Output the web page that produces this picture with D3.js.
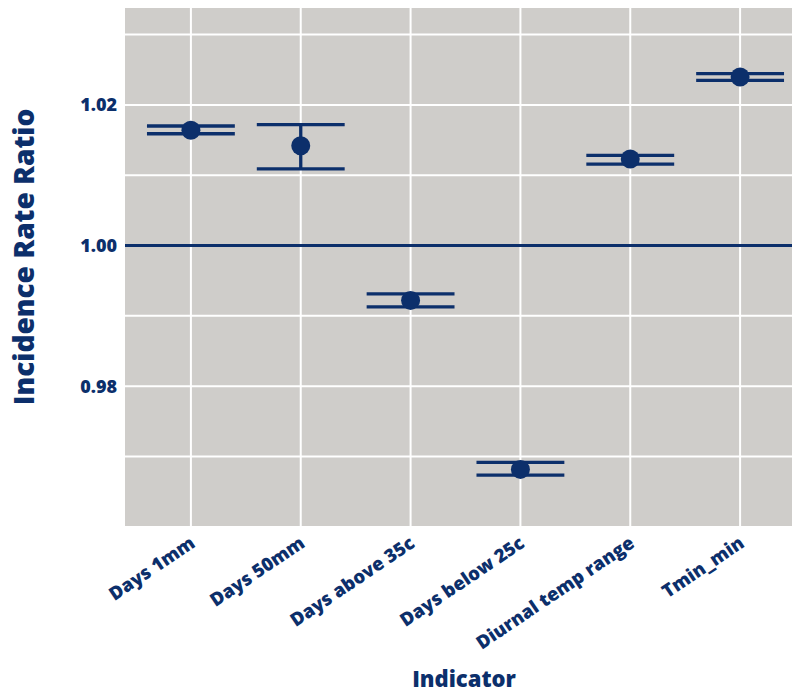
<!DOCTYPE html>
<html><head><meta charset="utf-8">
<script src="https://cdn.jsdelivr.net/npm/d3@7"></script>
<style>body{margin:0;background:#fff}svg{display:block}</style>
</head><body>
<svg id="c" width="792" height="696"></svg>
<script>
const categories = ["Days 1mm","Days 50mm","Days above 35c","Days below 25c","Diurnal temp range","Tmin_min"];
const estimate = [1.0164, 1.0142, 0.9922, 0.96817, 1.0123, 1.02397];
const lower = [1.0159, 1.0109, 0.99129, 0.96735, 1.01159, 1.02350];
const upper = [1.0170, 1.0172, 0.99314, 0.96916, 1.01283, 1.02444];
const yTicks = [0.98, 1.00, 1.02];
const yMinor = [0.97, 0.99, 1.01, 1.03];

const navy = "#0c2f6b", font = "'Open Sans', Lato, sans-serif";
const svg = d3.select("#c");
const L = 125, R = 806, T = 8, B = 526;
const x = d3.scalePoint().domain(categories).range([L, R]).padding(0.6);
const y = d3.scaleLinear().domain([0.96012, 1.03378]).range([B, T]);
const step = x.step();

svg.append("defs").append("clipPath").attr("id","clip")
  .append("rect").attr("x",L).attr("y",T).attr("width",792-L).attr("height",B-T);
const g = svg.append("g").attr("clip-path","url(#clip)");
g.append("rect").attr("x",L).attr("y",T).attr("width",R-L).attr("height",B-T).attr("fill","#cfcdca");
g.selectAll(".hg").data(yTicks.concat(yMinor)).join("line")
  .attr("x1",L).attr("x2",R).attr("y1",d=>y(d)).attr("y2",d=>y(d))
  .attr("stroke","#fff").attr("stroke-width",2);
g.selectAll(".vg").data(categories).join("line")
  .attr("x1",d=>x(d)).attr("x2",d=>x(d)).attr("y1",T).attr("y2",B)
  .attr("stroke","#fff").attr("stroke-width",2);
g.append("line").attr("x1",L).attr("x2",R).attr("y1",y(1)).attr("y2",y(1))
  .attr("stroke",navy).attr("stroke-width",3);

const idx = d3.range(categories.length);
const hw = step*0.4;
g.selectAll(".ev").data(idx).join("line")
  .attr("x1",i=>x(categories[i])).attr("x2",i=>x(categories[i]))
  .attr("y1",i=>y(lower[i])).attr("y2",i=>y(upper[i]))
  .attr("stroke",navy).attr("stroke-width",3.3);
["lo","hi"].forEach(k=>{
  const arr = k==="lo"?lower:upper;
  g.selectAll(".e"+k).data(idx).join("line")
    .attr("x1",i=>x(categories[i])-hw).attr("x2",i=>x(categories[i])+hw)
    .attr("y1",i=>y(arr[i])).attr("y2",i=>y(arr[i]))
    .attr("stroke",navy).attr("stroke-width",3.3);
});
g.selectAll(".pt").data(idx).join("circle")
  .attr("cx",i=>x(categories[i])).attr("cy",i=>y(estimate[i])).attr("r",9.5)
  .attr("fill",navy);

// y axis labels
svg.selectAll(".yl").data(yTicks).join("text")
  .attr("x",117).attr("y",d=>y(d)).attr("dy","0.36em").attr("text-anchor","end")
  .attr("font-family",font).attr("font-weight",800).attr("font-size",18).attr("fill",navy)
  .text(d=>d3.format(".2f")(d));
// x axis labels
svg.selectAll(".xl").data(categories).join("text")
  .attr("transform",d=>`translate(${x(d)-2},${B+9}) rotate(-34)`)
  .attr("text-anchor","end").attr("dy","0.72em")
  .attr("font-family",font).attr("font-weight",800).attr("font-size",18.5).attr("fill",navy)
  .text(d=>d);
// titles
svg.append("text").attr("x",464).attr("y",687).attr("text-anchor","middle")
  .attr("font-family",font).attr("font-weight",800).attr("font-size",22).attr("fill",navy).text("Indicator");
svg.append("text").attr("transform",`translate(34,257) rotate(-90)`).attr("text-anchor","middle")
  .attr("font-family",font).attr("font-weight",800).attr("font-size",28).attr("fill",navy).text("Incidence Rate Ratio");
</script>
</body></html>
